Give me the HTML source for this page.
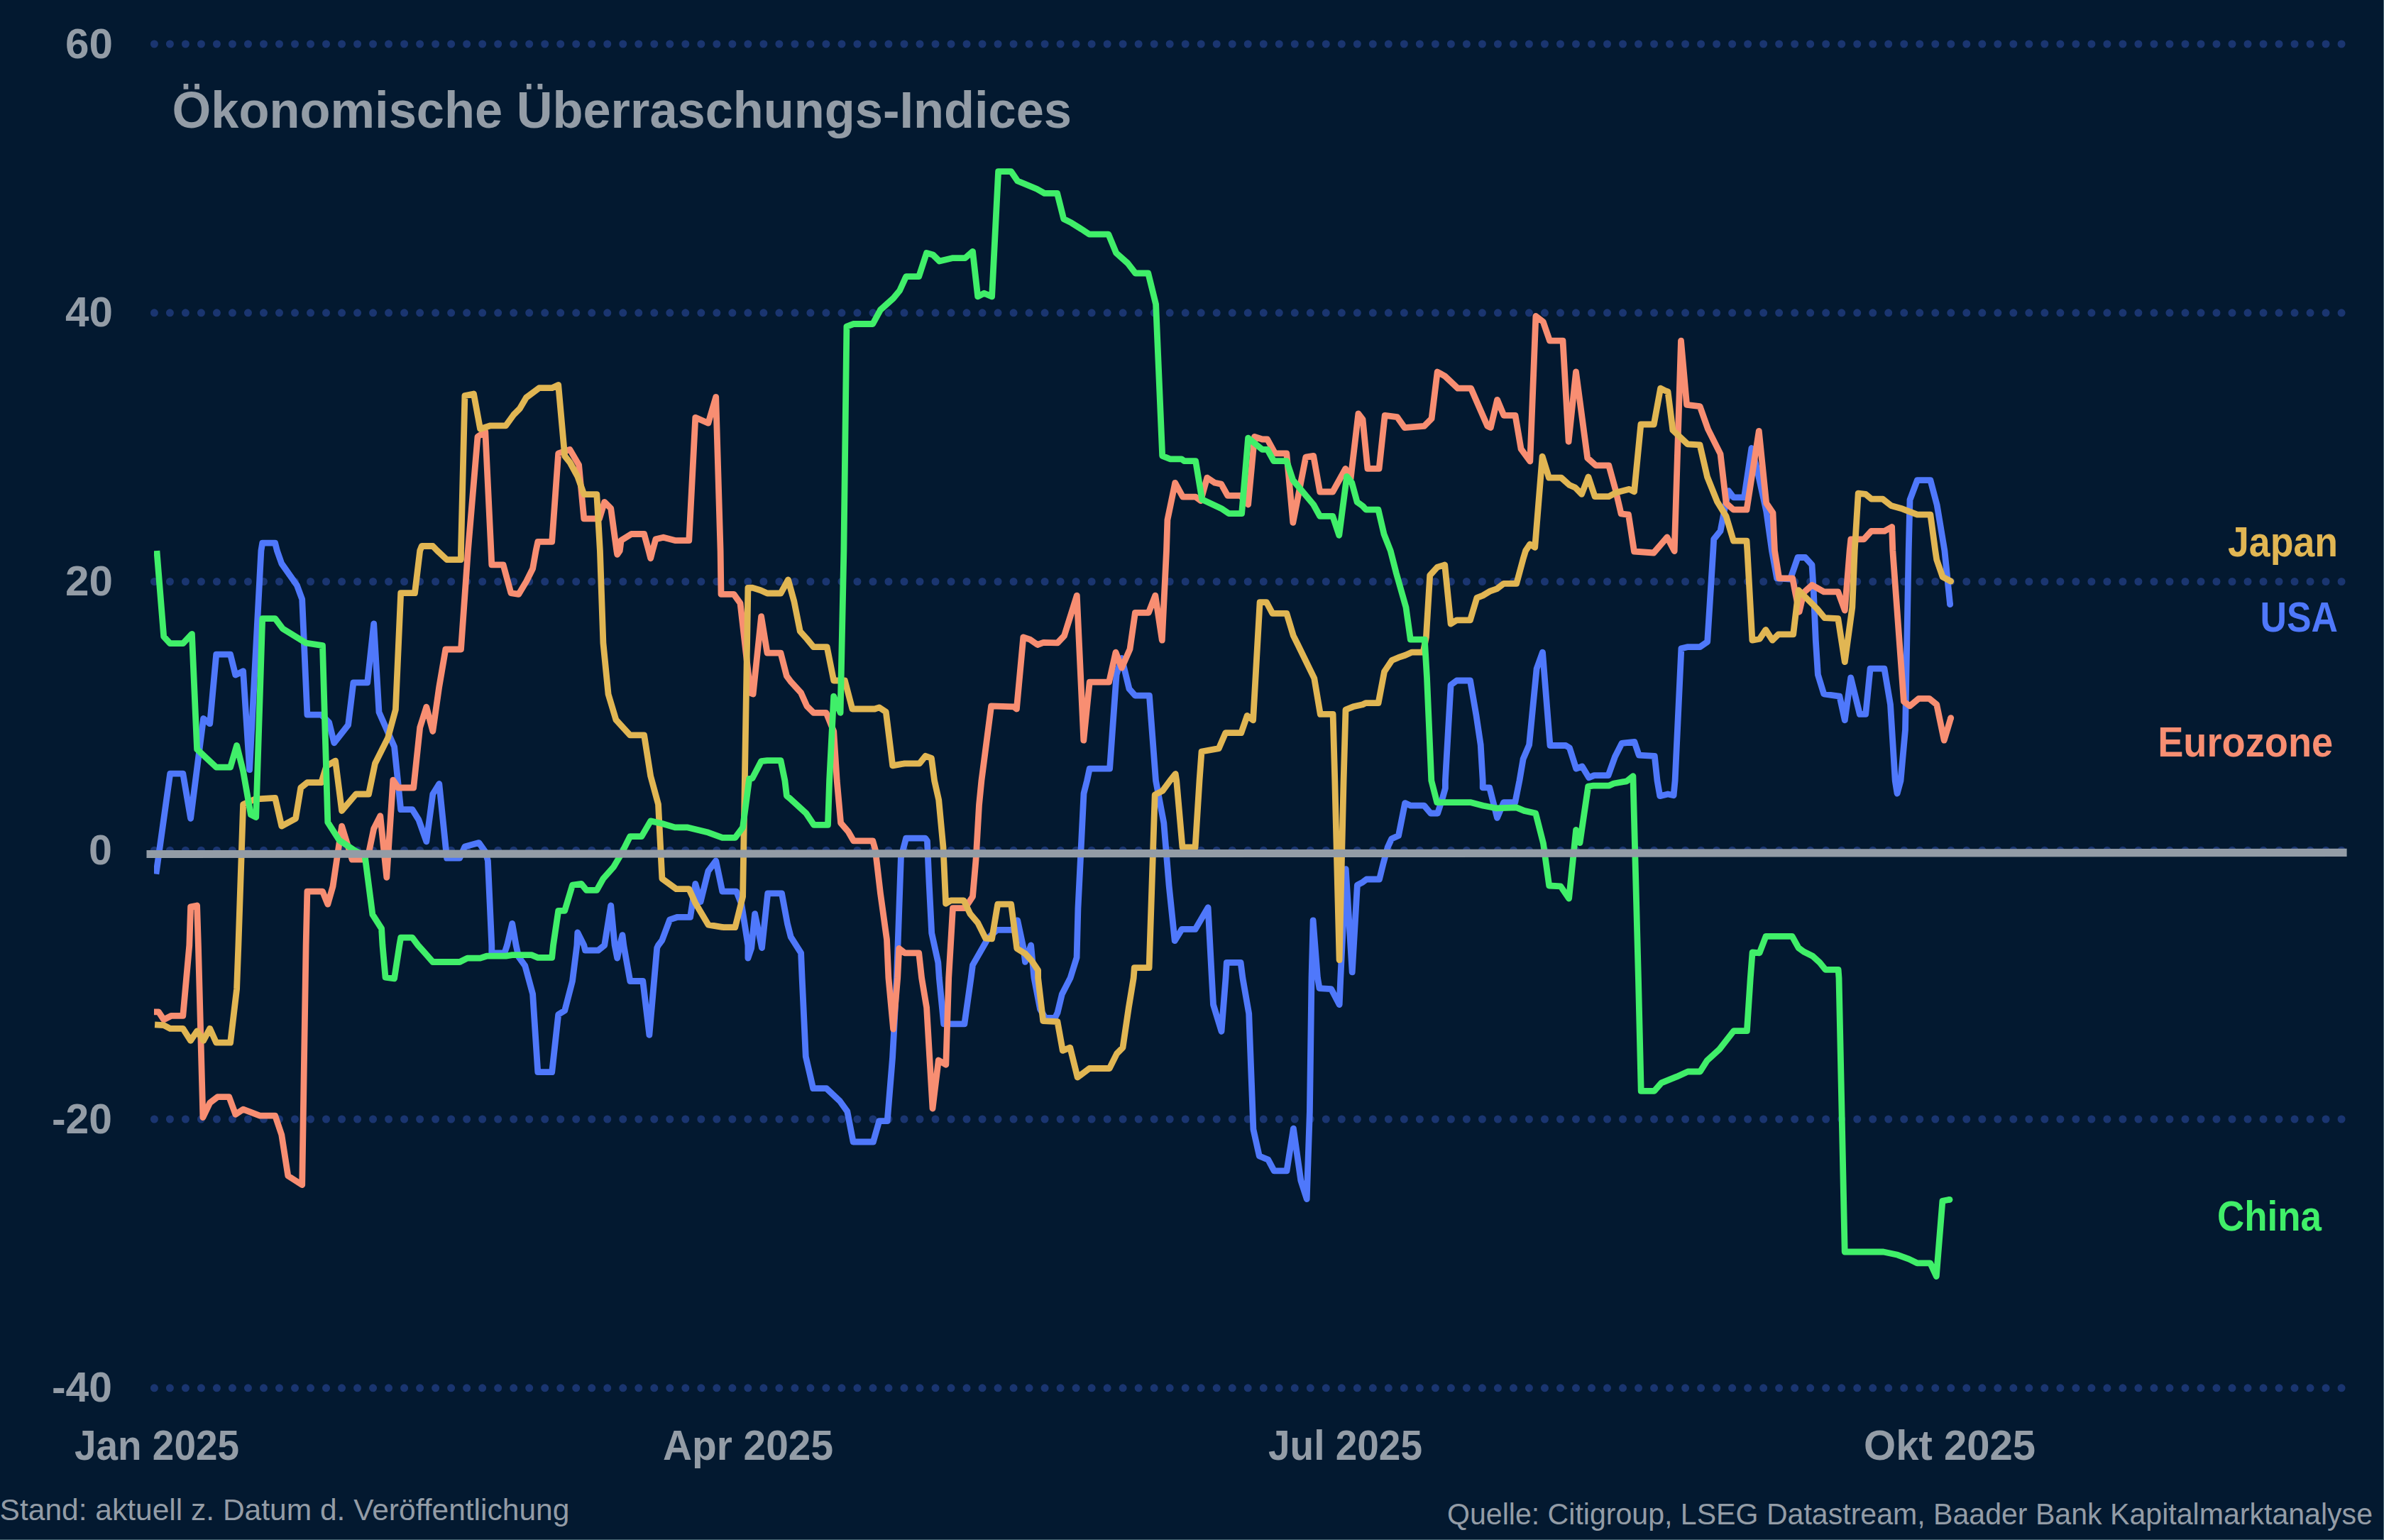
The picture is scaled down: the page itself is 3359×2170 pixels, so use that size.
<!DOCTYPE html>
<html><head><meta charset="utf-8"><style>html,body{margin:0;padding:0;background:#031930;overflow:hidden}svg{display:block}</style></head>
<body><svg width="3359" height="2170" viewBox="0 0 3359 2170">
<rect x="0" y="0" width="3359" height="2170" fill="#031930"/>
<rect x="3358" y="0" width="1" height="2170" fill="#4f6a75"/>
<rect x="0" y="2169" width="3359" height="1" fill="#4f6a75"/>
<line x1="217.4" y1="62.0" x2="3299.2" y2="62.0" stroke="#1a3570" stroke-width="11" stroke-linecap="round" stroke-dasharray="0 22.012"/>
<line x1="217.4" y1="440.8" x2="3299.2" y2="440.8" stroke="#1a3570" stroke-width="11" stroke-linecap="round" stroke-dasharray="0 22.012"/>
<line x1="217.4" y1="819.5" x2="3299.2" y2="819.5" stroke="#1a3570" stroke-width="11" stroke-linecap="round" stroke-dasharray="0 22.012"/>
<line x1="217.4" y1="1198.2" x2="3299.2" y2="1198.2" stroke="#1a3570" stroke-width="11" stroke-linecap="round" stroke-dasharray="0 22.012"/>
<line x1="217.4" y1="1577.0" x2="3299.2" y2="1577.0" stroke="#1a3570" stroke-width="11" stroke-linecap="round" stroke-dasharray="0 22.012"/>
<line x1="217.4" y1="1955.8" x2="3299.2" y2="1955.8" stroke="#1a3570" stroke-width="11" stroke-linecap="round" stroke-dasharray="0 22.012"/>
<text x="92" y="81.5" style="font-family:'Liberation Sans',sans-serif" font-weight="bold" font-size="59" fill="#939ca6" textLength="67" lengthAdjust="spacingAndGlyphs">60</text>
<text x="92" y="460.2" style="font-family:'Liberation Sans',sans-serif" font-weight="bold" font-size="59" fill="#939ca6" textLength="67" lengthAdjust="spacingAndGlyphs">40</text>
<text x="92" y="839.0" style="font-family:'Liberation Sans',sans-serif" font-weight="bold" font-size="59" fill="#939ca6" textLength="67" lengthAdjust="spacingAndGlyphs">20</text>
<text x="125" y="1217.8" style="font-family:'Liberation Sans',sans-serif" font-weight="bold" font-size="59" fill="#939ca6" textLength="33" lengthAdjust="spacingAndGlyphs">0</text>
<text x="73" y="1596.5" style="font-family:'Liberation Sans',sans-serif" font-weight="bold" font-size="59" fill="#939ca6" textLength="85" lengthAdjust="spacingAndGlyphs">-20</text>
<text x="73" y="1975.2" style="font-family:'Liberation Sans',sans-serif" font-weight="bold" font-size="59" fill="#939ca6" textLength="85" lengthAdjust="spacingAndGlyphs">-40</text>
<text x="242.6" y="179.6" style="font-family:'Liberation Sans',sans-serif" font-weight="bold" font-size="73" fill="#939ca6" textLength="1267.4" lengthAdjust="spacingAndGlyphs">Ökonomische Überraschungs-Indices</text>
<text x="105" y="2057" style="font-family:'Liberation Sans',sans-serif" font-weight="bold" font-size="59" fill="#939ca6" textLength="232" lengthAdjust="spacingAndGlyphs">Jan 2025</text>
<text x="934" y="2057" style="font-family:'Liberation Sans',sans-serif" font-weight="bold" font-size="59" fill="#939ca6" textLength="240" lengthAdjust="spacingAndGlyphs">Apr 2025</text>
<text x="1787" y="2057" style="font-family:'Liberation Sans',sans-serif" font-weight="bold" font-size="59" fill="#939ca6" textLength="217" lengthAdjust="spacingAndGlyphs">Jul 2025</text>
<text x="2626" y="2057" style="font-family:'Liberation Sans',sans-serif" font-weight="bold" font-size="59" fill="#939ca6" textLength="242" lengthAdjust="spacingAndGlyphs">Okt 2025</text>
<text x="-0.4" y="2142.3" style="font-family:'Liberation Sans',sans-serif" font-size="43" fill="#939ca6" textLength="802.7" lengthAdjust="spacingAndGlyphs">Stand: aktuell z. Datum d. Veröffentlichung</text>
<text x="2039" y="2147.6" style="font-family:'Liberation Sans',sans-serif" font-size="43" fill="#939ca6" textLength="1304" lengthAdjust="spacingAndGlyphs">Quelle: Citigroup, LSEG Datastream, Baader Bank Kapitalmarktanalyse</text>
<text x="3139" y="784" style="font-family:'Liberation Sans',sans-serif" font-weight="bold" font-size="59" fill="#e1b653" textLength="155.0" lengthAdjust="spacingAndGlyphs">Japan</text>
<text x="3184.5" y="890" style="font-family:'Liberation Sans',sans-serif" font-weight="bold" font-size="59" fill="#4f78fb" textLength="109.5" lengthAdjust="spacingAndGlyphs">USA</text>
<text x="3040.2" y="1066" style="font-family:'Liberation Sans',sans-serif" font-weight="bold" font-size="59" fill="#f88e72" textLength="247.0" lengthAdjust="spacingAndGlyphs">Eurozone</text>
<text x="3124" y="1733.8" style="font-family:'Liberation Sans',sans-serif" font-weight="bold" font-size="59" fill="#40ef69" textLength="147.0" lengthAdjust="spacingAndGlyphs">China</text>
<defs><clipPath id="plot"><rect x="217" y="0" width="3142" height="2170"/></clipPath></defs><g clip-path="url(#plot)">
<polyline points="219.9,1231.6 239.7,1090.1 257.8,1090.1 268.6,1153.3 286.6,1012.5 295.7,1019.7 304.7,922.2 324.6,922.2 331.8,951.1 342.6,945.7 351.6,1084.7 367.9,776.0 369.7,765.2 387.7,765.2 390.4,776.0 396.8,794.1 418.4,824.7 425.7,844.6 432.9,1007.1 452.7,1007.1 463.6,1017.9 470.8,1046.8 490.6,1021.5 497.9,961.9 517.7,961.9 526.7,878.9 534.0,1003.5 555.6,1052.2 564.7,1140.7 580.9,1140.7 589.9,1155.1 600.8,1185.8 609.8,1119.0 618.8,1104.5 629.6,1209.2 647.7,1209.2 654.9,1193.0 674.8,1187.6 683.8,1200.2 687.4,1212.9 692.8,1332.0 692.8,1342.8 710.9,1342.8 714.5,1332.0 721.7,1301.3 727.1,1332.0 730.7,1348.2 739.8,1360.9 750.6,1400.6 757.8,1510.7 777.7,1510.7 786.7,1429.5 795.7,1424.1 806.5,1382.5 812.9,1332.0 813.8,1314.0 822.8,1332.0 824.6,1339.2 842.7,1339.2 851.7,1332.0 860.7,1276.0 866.1,1332.0 869.7,1350.1 873.3,1332.0 877.0,1317.6 878.8,1332.0 887.8,1382.5 905.8,1382.5 914.9,1458.4 925.7,1335.6 927.5,1332.0 932.9,1324.8 943.7,1295.9 954.6,1292.3 972.6,1292.3 979.8,1245.4 987.1,1270.6 997.9,1227.3 1008.7,1212.9 1017.8,1256.2 1037.6,1256.2 1044.8,1274.2 1053.9,1332.0 1053.9,1350.1 1058.7,1336.0 1063.6,1287.7 1073.5,1335.6 1081.7,1258.9 1101.5,1258.9 1109.6,1302.2 1114.2,1320.2 1128.6,1342.8 1130.1,1378.0 1135.3,1488.8 1145.7,1533.7 1164.5,1533.7 1183.3,1551.5 1193.8,1566.1 1202.1,1609.0 1230.4,1609.0 1238.7,1579.7 1250.2,1579.7 1257.5,1490.9 1259.6,1453.3 1263.4,1378.0 1269.4,1208.3 1276.6,1181.2 1303.7,1181.2 1306.4,1184.8 1309.1,1244.4 1312.7,1314.8 1321.8,1356.3 1323.3,1378.0 1329.7,1442.8 1358.9,1442.8 1368.1,1378.0 1370.5,1359.9 1392.2,1322.0 1404.8,1310.3 1426.5,1310.3 1433.7,1296.8 1441.8,1334.7 1444.5,1355.4 1452.6,1332.0 1457.0,1378.0 1465.5,1421.9 1472.9,1434.4 1486.4,1434.4 1490.0,1427.1 1496.3,1401.0 1508.1,1378.0 1517.1,1349.1 1518.9,1280.5 1522.5,1208.3 1527.0,1118.1 1531.6,1100.0 1535.2,1083.1 1563.6,1083.1 1573.1,950.6 1580.5,927.5 1591.0,970.6 1599.4,980.1 1619.4,980.1 1628.5,1100.0 1639.8,1159.6 1647.1,1248.0 1655.2,1325.7 1665.1,1309.4 1684.1,1309.4 1702.1,1278.7 1707.4,1378.0 1709.5,1415.6 1721.0,1453.3 1727.0,1378.0 1728.3,1356.3 1748.1,1356.3 1750.9,1378.0 1759.7,1428.2 1765.9,1591.2 1774.3,1628.9 1786.8,1634.1 1795.2,1649.8 1813.0,1649.8 1822.4,1590.2 1832.8,1663.3 1841.2,1689.5 1845.4,1566.1 1848.0,1378.0 1850.1,1296.8 1856.5,1378.0 1859.0,1392.6 1875.7,1393.7 1887.2,1415.6 1888.8,1378.0 1896.2,1224.6 1905.2,1369.9 1912.4,1247.1 1920.0,1243.1 1925.4,1239.0 1943.5,1239.0 1948.9,1217.3 1955.2,1193.9 1960.6,1182.1 1970.5,1177.6 1979.6,1131.6 1987.7,1135.2 2006.6,1135.2 2015.7,1146.0 2025.6,1146.0 2032.8,1123.5 2036.4,1110.8 2036.4,1100.0 2044.1,965.3 2052.5,959.0 2071.5,959.0 2079.9,1007.4 2086.2,1049.5 2089.2,1100.0 2089.2,1109.9 2098.7,1109.9 2109.5,1152.4 2118.6,1130.7 2134.8,1130.7 2140.9,1100.0 2146.1,1069.5 2154.6,1049.5 2165.1,942.2 2173.5,919.1 2184.0,1050.5 2206.1,1050.5 2211.4,1053.7 2220.8,1083.1 2229.2,1080.0 2238.7,1095.8 2246.1,1092.6 2266.1,1092.6 2275.5,1066.3 2285.0,1047.4 2302.9,1045.3 2309.2,1064.2 2331.3,1065.3 2335.0,1100.0 2338.8,1121.7 2350.0,1119.0 2358.1,1120.8 2360.1,1100.0 2368.9,913.8 2377.3,911.7 2395.2,911.7 2405.7,904.3 2413.8,776.0 2414.7,759.8 2424.0,748.3 2429.8,718.2 2435.5,691.6 2442.5,700.9 2457.5,700.9 2467.9,631.5 2476.0,662.7 2488.7,720.5 2496.5,776.0 2503.6,814.9 2522.5,816.0 2533.0,785.5 2543.5,785.5 2553.0,796.0 2555.1,828.6 2558.3,902.2 2561.4,950.6 2569.8,978.0 2591.9,981.1 2599.3,1014.8 2607.7,954.8 2620.3,1006.4 2628.7,1006.4 2635.1,942.2 2655.0,942.2 2663.5,992.7 2670.2,1100.0 2673.1,1118.1 2678.0,1100.0 2684.5,1028.4 2689.2,776.0 2691.0,704.4 2701.4,676.6 2719.9,676.6 2729.1,711.3 2739.9,776.0 2747.6,851.7" fill="none" stroke="#4f78fb" stroke-width="8.8" stroke-linejoin="round" stroke-linecap="butt"/>
<circle cx="2747.6" cy="851.7" r="4.4" fill="#4f78fb"/>
<polyline points="214.4,1425.9 223.5,1425.9 230.7,1436.7 241.5,1431.3 257.8,1431.3 266.8,1332.0 268.6,1277.8 277.6,1276.0 279.4,1332.0 285.9,1574.6 295.7,1554.0 306.5,1545.7 322.8,1545.7 331.8,1570.3 342.6,1563.1 366.1,1572.1 387.7,1572.1 396.8,1599.2 405.8,1656.9 425.7,1669.6 431.1,1332.0 432.9,1256.2 454.5,1256.2 461.8,1274.2 469.0,1249.0 476.2,1200.2 481.6,1164.1 496.1,1211.1 510.5,1211.1 519.5,1202.0 526.7,1167.7 535.8,1149.7 544.8,1236.3 553.8,1099.1 561.0,1110.0 582.7,1110.0 591.7,1025.1 600.8,996.2 609.8,1030.5 618.8,967.4 627.8,915.0 649.5,915.0 659.4,776.0 673.0,615.3 683.8,608.1 691.9,776.0 692.8,795.9 709.1,795.9 719.9,835.6 730.7,837.4 741.6,819.3 750.6,801.3 755.1,776.0 757.8,763.4 777.7,763.4 786.7,638.8 802.9,633.4 815.6,655.1 822.8,730.9 844.5,730.9 851.7,707.4 860.7,716.4 868.8,776.0 869.7,781.4 873.3,776.0 875.1,761.6 889.6,752.5 907.6,752.5 914.0,776.0 916.7,786.8 919.4,776.0 923.9,759.8 934.7,757.2 951.0,761.6 970.8,761.6 979.8,588.3 997.9,596.2 1008.7,559.4 1015.1,776.0 1016.0,837.4 1034.0,837.4 1043.0,850.0 1057.5,976.4 1061.1,978.1 1072.6,868.6 1081.0,920.1 1100.0,920.1 1108.4,952.7 1114.7,961.1 1128.4,975.9 1136.8,994.8 1146.3,1004.3 1164.1,1004.3 1174.7,1030.5 1179.2,1100.0 1184.6,1159.6 1195.4,1172.2 1202.6,1184.8 1229.7,1184.8 1233.3,1197.5 1240.5,1258.9 1249.5,1323.8 1251.9,1378.0 1258.6,1450.1 1264.7,1378.0 1266.7,1336.5 1274.8,1342.8 1294.7,1342.8 1298.6,1378.0 1305.6,1419.8 1314.0,1562.0 1322.3,1494.0 1332.8,1500.3 1336.7,1378.0 1342.5,1279.6 1359.7,1279.6 1370.5,1263.4 1375.0,1211.9 1379.5,1134.3 1382.9,1100.0 1396.6,994.8 1428.2,995.8 1432.4,999.0 1441.8,898.0 1451.3,901.2 1461.8,908.5 1470.2,905.4 1490.0,905.9 1499.5,895.9 1517.3,839.1 1526.8,1043.2 1535.2,961.1 1562.6,961.1 1572.0,919.1 1580.5,941.1 1592.0,914.8 1599.4,863.3 1618.3,863.3 1627.8,839.1 1637.3,902.2 1643.5,776.0 1644.9,732.7 1655.7,680.3 1666.5,700.2 1684.6,700.2 1691.8,705.6 1700.8,673.1 1711.7,680.3 1720.7,682.1 1729.7,698.4 1747.8,698.4 1758.6,711.0 1767.6,615.3 1778.5,619.0 1785.7,619.0 1796.5,638.8 1812.8,638.8 1821.8,736.3 1839.8,644.2 1850.7,642.4 1859.7,693.0 1877.8,693.0 1895.8,660.5 1903.0,674.9 1913.9,582.8 1920.0,590.8 1926.9,660.4 1943.1,660.4 1951.2,585.3 1968.5,587.6 1979.0,602.6 2006.7,600.3 2017.1,589.9 2025.2,524.0 2035.6,529.8 2054.1,547.2 2072.6,547.2 2084.1,573.7 2095.7,600.3 2100.3,602.6 2109.6,563.3 2118.8,585.3 2135.0,585.3 2143.1,632.7 2155.8,650.0 2163.9,445.4 2174.3,453.5 2183.5,480.1 2202.0,480.1 2210.1,622.3 2220.5,524.0 2236.7,645.4 2248.3,655.8 2266.8,655.8 2276.0,689.3 2284.1,724.0 2294.5,725.2 2302.5,777.0 2330.0,779.0 2349.0,757.0 2359.2,776.5 2368.5,480.1 2376.6,570.3 2395.1,572.6 2406.6,604.9 2424.0,639.6 2432.1,709.0 2442.5,718.2 2461.0,718.2 2478.3,607.3 2488.7,709.0 2498.0,722.8 2500.5,776.0 2506.7,814.9 2525.7,814.9 2529.9,837.0 2535.1,862.3 2541.4,834.9 2553.0,824.4 2569.8,833.9 2589.8,833.9 2599.3,860.1 2606.1,776.0 2607.8,759.8 2626.3,759.8 2636.7,748.3 2655.2,748.3 2665.6,742.5 2666.8,776.0 2682.4,988.5 2690.8,994.8 2703.4,984.3 2718.2,984.3 2728.7,992.7 2739.2,1043.2 2748.7,1011.6" fill="none" stroke="#f88e72" stroke-width="8.8" stroke-linejoin="round" stroke-linecap="butt"/>
<circle cx="2748.7" cy="1011.6" r="4.4" fill="#f88e72"/>
<polyline points="218.1,1443.9 230.7,1444.6 239.7,1449.3 257.8,1449.3 268.6,1466.3 277.6,1452.9 286.6,1466.3 295.7,1449.3 304.7,1469.2 324.6,1469.2 333.6,1393.4 335.9,1332.0 342.6,1133.4 358.9,1126.2 387.7,1124.4 396.8,1164.1 416.6,1153.3 423.8,1110.0 432.9,1102.7 452.7,1102.7 459.9,1079.3 472.6,1072.1 481.6,1142.5 501.5,1119.0 519.5,1119.0 528.5,1075.7 546.6,1039.6 557.4,999.8 564.7,835.6 584.5,835.6 591.7,776.0 594.3,769.5 609.8,769.5 616.1,776.0 629.6,788.6 649.5,788.6 649.5,776.0 654.9,557.6 667.5,555.0 676.6,604.5 691.0,599.8 712.7,599.8 723.5,584.7 732.5,575.6 741.6,560.1 759.6,546.7 777.7,546.7 786.7,542.4 795.7,642.4 802.9,651.4 813.8,671.3 822.8,696.6 840.8,696.6 845.4,776.0 849.9,906.0 857.1,978.2 867.9,1014.3 887.8,1035.9 907.6,1035.9 916.7,1093.7 927.5,1133.4 932.9,1238.1 952.8,1252.6 970.8,1252.6 979.8,1272.4 997.9,1303.1 1019.6,1306.7 1035.8,1306.7 1046.6,1263.4 1053.9,828.4 1060.0,828.1 1071.6,831.7 1081.0,836.0 1100.0,836.0 1110.5,817.0 1118.9,847.5 1127.3,889.6 1136.8,900.1 1146.3,911.7 1165.2,911.7 1174.7,959.0 1190.4,959.0 1200.9,999.0 1232.5,999.0 1238.8,996.9 1248.3,1003.2 1257.7,1078.9 1274.6,1075.8 1295.6,1075.8 1304.0,1065.3 1312.4,1068.4 1316.6,1100.0 1322.7,1127.1 1329.0,1193.9 1332.6,1273.3 1339.8,1268.8 1357.9,1268.8 1366.9,1287.7 1377.7,1300.4 1388.5,1322.0 1397.6,1322.9 1405.7,1274.2 1424.7,1274.2 1432.8,1336.5 1444.5,1343.7 1453.5,1353.6 1462.6,1367.2 1462.6,1378.0 1469.7,1438.6 1490.0,1439.7 1497.3,1480.4 1507.8,1476.2 1518.2,1518.1 1534.9,1505.5 1563.2,1505.5 1573.6,1484.6 1582.0,1476.2 1590.3,1419.8 1597.2,1378.0 1598.3,1363.6 1619.1,1363.6 1627.2,1119.9 1638.0,1114.4 1648.6,1100.0 1656.2,1090.5 1657.7,1100.0 1666.0,1193.9 1684.1,1193.9 1690.0,1100.0 1693.0,1059.0 1717.2,1054.7 1726.7,1032.7 1748.8,1032.7 1757.2,1008.5 1765.6,1014.8 1775.1,848.6 1784.5,848.6 1792.9,864.4 1812.9,864.4 1822.4,895.9 1828.7,908.5 1851.8,955.9 1860.3,1006.4 1878.1,1006.4 1880.8,1100.0 1887.1,1352.7 1893.1,1100.0 1896.0,1000.0 1906.5,995.8 1920.0,992.7 1924.2,990.6 1942.1,990.6 1950.5,946.4 1961.0,930.6 1970.5,926.4 1980.0,923.3 1989.4,919.1 2005.2,919.1 2009.4,898.0 2014.7,810.7 2025.2,799.1 2035.7,796.0 2044.1,879.1 2052.5,873.8 2071.5,873.8 2080.9,842.3 2089.3,839.1 2099.9,832.8 2109.3,829.6 2118.8,822.3 2136.7,822.3 2146.1,787.6 2149.6,776.0 2155.8,766.8 2162.7,771.4 2173.1,643.1 2182.4,673.1 2199.7,673.1 2211.3,683.5 2219.4,687.0 2228.6,696.3 2237.9,672.0 2247.1,699.7 2266.8,699.7 2277.2,694.0 2295.7,689.3 2302.6,692.8 2311.9,598.0 2330.3,598.0 2339.6,547.2 2346.5,550.6 2350.0,551.8 2356.9,606.1 2377.7,625.8 2395.1,626.9 2405.5,672.0 2419.4,706.7 2432.1,727.5 2442.5,762.2 2461.0,762.2 2461.9,776.0 2468.9,902.2 2479.4,900.1 2487.8,887.5 2497.3,902.2 2505.7,893.8 2526.7,893.8 2534.1,831.7 2560.4,858.0 2570.9,870.7 2589.8,871.7 2599.3,932.7 2609.8,855.9 2613.2,776.0 2618.2,695.1 2628.6,696.3 2636.7,703.2 2652.8,703.2 2664.4,712.4 2680.6,717.1 2701.4,725.2 2719.9,725.2 2726.8,776.0 2728.7,788.6 2737.1,812.8 2748.7,819.1" fill="none" stroke="#e1b653" stroke-width="8.8" stroke-linejoin="round" stroke-linecap="butt"/>
<circle cx="2748.7" cy="819.1" r="4.4" fill="#e1b653"/>
<polyline points="220.9,776.0 230.7,896.9 239.7,906.7 257.8,906.7 270.4,893.3 277.6,1055.8 304.7,1081.1 324.6,1081.1 333.6,1050.4 342.6,1086.5 353.4,1147.9 360.7,1151.5 369.7,871.7 387.7,871.7 398.6,886.1 431.1,906.0 454.5,909.6 461.8,1158.7 478.0,1184.0 499.7,1198.4 514.1,1205.6 524.9,1288.7 537.6,1308.5 539.0,1332.0 543.0,1377.1 555.6,1378.9 562.8,1332.0 564.7,1321.2 580.9,1321.2 589.0,1332.0 597.1,1341.0 609.8,1355.5 647.7,1355.5 658.5,1350.1 676.6,1350.1 685.6,1347.2 712.7,1347.2 721.7,1345.7 748.8,1345.7 757.8,1349.3 777.7,1349.3 779.5,1332.0 786.7,1283.3 795.7,1283.3 806.5,1247.2 819.2,1245.4 826.4,1254.4 840.8,1254.4 849.9,1238.1 864.3,1221.9 875.1,1203.8 887.8,1178.6 904.0,1178.6 916.7,1156.9 932.9,1160.5 951.0,1165.9 969.0,1165.9 997.9,1173.1 1017.8,1180.4 1035.8,1180.4 1046.6,1165.9 1055.7,1097.3 1060.0,1096.7 1072.6,1072.6 1081.0,1071.6 1100.0,1071.6 1105.9,1100.0 1108.4,1121.3 1114.2,1126.2 1135.8,1146.0 1146.6,1162.3 1166.5,1162.3 1168.6,1100.0 1174.7,981.1 1184.1,1004.3 1188.9,776.0 1192.9,460.1 1202.6,456.5 1229.7,456.5 1240.5,436.6 1258.6,420.4 1267.6,409.5 1276.6,389.7 1294.7,389.7 1305.5,356.5 1314.5,359.0 1323.6,368.0 1341.6,363.7 1359.7,363.7 1370.5,354.3 1377.7,417.9 1386.7,413.2 1397.6,417.9 1406.6,241.7 1424.7,241.7 1433.7,255.0 1460.8,266.2 1471.6,272.4 1489.6,272.4 1498.7,308.5 1509.5,313.9 1523.9,322.9 1534.8,330.1 1561.8,330.1 1572.7,356.5 1588.9,370.9 1599.8,385.0 1617.8,385.0 1628.6,428.7 1637.7,642.4 1648.5,646.8 1664.7,646.8 1668.4,649.6 1684.6,649.6 1693.6,703.8 1720.7,716.4 1731.5,723.7 1749.6,723.7 1758.6,617.1 1778.5,633.4 1785.7,633.4 1794.7,649.6 1812.8,649.6 1821.8,676.7 1850.7,711.0 1859.7,727.3 1877.8,727.3 1886.8,754.3 1897.6,671.3 1904.8,680.3 1912.1,707.4 1920.0,713.0 1924.6,718.2 1942.0,718.2 1950.1,752.9 1959.2,776.0 1967.3,807.6 1981.0,855.9 1987.3,901.2 2007.3,901.2 2010.5,954.8 2016.8,1100.0 2024.7,1130.7 2072.5,1130.7 2089.7,1135.2 2107.7,1138.8 2136.6,1137.9 2147.5,1142.4 2163.7,1146.0 2174.5,1188.5 2182.7,1248.0 2198.9,1248.9 2210.6,1266.1 2220.6,1169.5 2226.0,1187.6 2237.7,1108.1 2244.9,1107.2 2266.6,1107.2 2273.8,1104.0 2291.9,1100.9 2300.9,1093.7 2308.4,1378.0 2312.2,1537.3 2330.8,1537.3 2340.9,1525.8 2362.4,1517.2 2378.2,1510.0 2395.4,1510.0 2405.4,1494.2 2422.7,1478.5 2442.8,1452.6 2461.4,1452.6 2466.3,1378.0 2469.1,1341.9 2479.1,1342.8 2488.1,1319.3 2525.1,1319.3 2534.1,1335.6 2541.4,1341.0 2554.0,1347.3 2563.9,1356.3 2572.0,1366.3 2590.1,1366.3 2591.0,1378.0 2599.2,1764.0 2653.7,1764.0 2673.8,1768.3 2689.6,1774.1 2701.1,1779.8 2719.7,1779.8 2728.3,1798.5 2736.9,1692.3 2747.0,1690.3" fill="none" stroke="#40ef69" stroke-width="8.8" stroke-linejoin="round" stroke-linecap="butt"/>
<circle cx="2747.0" cy="1690.3" r="4.4" fill="#40ef69"/>
</g>
<polygon points="206.5,1198 3306.6,1195.8 3306.6,1207.1 206.5,1209" fill="#939ca6"/>
</svg></body></html>
